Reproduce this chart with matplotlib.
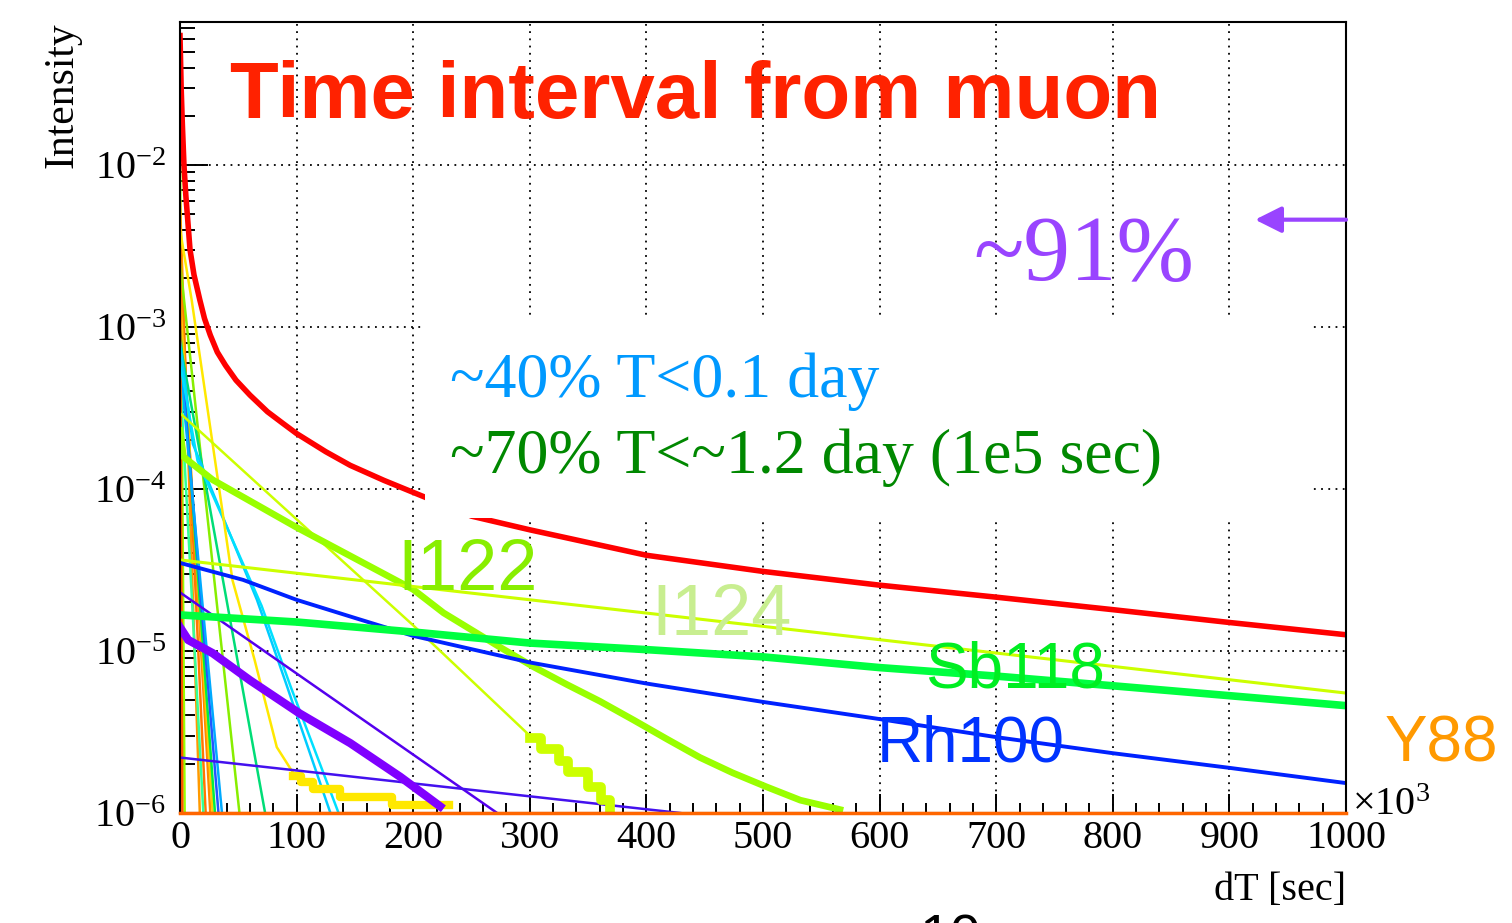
import numpy as np
import matplotlib
matplotlib.use('Agg')
import matplotlib.pyplot as plt
from matplotlib.patches import Rectangle

plt.rcParams['font.family'] = ['Liberation Serif', 'DejaVu Serif']
plt.rcParams['mathtext.fontset'] = 'custom'
plt.rcParams['mathtext.rm'] = 'Liberation Serif'
plt.rcParams['mathtext.it'] = 'Liberation Serif:italic'

W, H = 1512, 923
YMIN, YMAX = 1e-6, 0.0764

# dT in units of 1e3 sec
RED_X = [0, 1, 2, 3.4, 5, 8.6, 12, 17, 21, 26, 32, 39, 48, 60, 75, 88, 100, 125, 146, 175, 199,
         250, 300, 400, 500, 600, 700, 800, 900, 1000]
RED_Y = [0.063, 0.03, 0.018, 0.01, 6.5e-3, 3e-3, 2.1e-3, 1.47e-3, 1.13e-3, 8.9e-4, 7.0e-4, 5.8e-4,
         4.7e-4, 3.8e-4, 3.0e-4, 2.55e-4, 2.2e-4, 1.7e-4, 1.4e-4, 1.13e-4, 9.6e-5,
         6.8e-5, 5.6e-5, 3.9e-5, 3.1e-5, 2.55e-5, 2.15e-5, 1.8e-5, 1.5e-5, 1.26e-5]

SB118_X = [0, 100, 200, 300, 400, 500, 600, 700, 800, 900, 1000]
SB118_Y = [1.67e-5, 1.51e-5, 1.31e-5, 1.12e-5, 1.02e-5, 9.2e-6, 7.9e-6, 7.0e-6, 6.1e-6, 5.3e-6, 4.6e-6]

RH100_X = [0, 54, 100, 150, 200, 300, 400, 500, 600, 700, 800, 900, 1000]
RH100_Y = [3.5e-5, 2.75e-5, 2.07e-5, 1.6e-5, 1.24e-5, 8.5e-6, 6.3e-6, 4.85e-6, 3.8e-6, 2.94e-6,
           2.34e-6, 1.9e-6, 1.53e-6]

I124_X = [0, 500, 1000]
I124_Y = [3.65e-5, 1.42e-5, 5.5e-6]

I122_X = [0, 3, 28, 100, 200, 226, 250, 274, 303, 332, 360, 389, 418, 446, 474, 503, 532, 566]
I122_Y = [2.3e-4, 1.58e-4, 1.14e-4, 5.8e-5, 2.4e-5, 1.72e-5, 1.35e-5, 1.06e-5, 8.0e-6, 6.2e-6, 4.9e-6,
          3.75e-6, 2.85e-6, 2.2e-6, 1.77e-6, 1.45e-6, 1.2e-6, 1.05e-6]

# steep yellow-green fit and its histogram tail
YG_X = [0, 100, 200, 300]
YG_Y = [2.94e-4, 6.5e-5, 1.44e-5, 3.0e-6]
YG_TAIL_X = [300, 310, 325, 333, 350, 361, 369]
YG_TAIL_Y = [2.9e-6, 2.5e-6, 2.1e-6, 1.8e-6, 1.45e-6, 1.2e-6, 1.0e-6]

PURPLE_X = [0, 7, 28, 60, 103, 146, 189, 212, 223]
PURPLE_Y = [1.4e-5, 1.17e-5, 9.7e-6, 6.6e-6, 4.1e-6, 2.7e-6, 1.67e-6, 1.26e-6, 1.1e-6]

INDIGO1_X, INDIGO1_Y = [0, 272], [2.3e-5, 1.0e-6]
INDIGO2_X, INDIGO2_Y = [0, 429], [2.2e-6, 1.0e-6]

YEL_X = [0, 10, 45, 64, 83, 97]
YEL_Y = [4e-3, 1.47e-3, 2.74e-5, 8.8e-6, 2.55e-6, 1.77e-6]
YEL_TAIL_X = [97, 104, 114, 137, 182, 231]
YEL_TAIL_Y = [1.7e-6, 1.55e-6, 1.4e-6, 1.26e-6, 1.12e-6, 1.12e-6]

CYAN1_X, CYAN1_Y = [0, 11, 66, 90, 129], [8e-4, 1.9e-4, 2.07e-5, 6.6e-6, 1.0e-6]
CYAN2_X, CYAN2_Y = [0, 15, 70, 95, 136], [6e-4, 1.5e-4, 1.9e-5, 6e-6, 1.0e-6]

# short-lived isotopes: value at dT=0 and where they reach 1e-6
FAST_START = [1.2e-2, 6e-3, 3e-3, 2e-3, 1.5e-3, 1e-3, 8e-4, 6e-4, 2.5e-3, 8e-4, 5e-4, 3e-3]
FAST_END = [4, 17, 22, 26, 28, 30, 33, 36, 51, 73, 20, 2]
FAST_COLORS = ['#99ff00', '#ff9900', '#ff7700', '#ff8800', '#ffcc00', '#00ee44',
               '#2255ff', '#00aaff', '#88ee00', '#00dd77', '#33ff99', '#ff5500']

# Y88 sits below the plotted range, ROOT draws it on the floor
Y88_X, Y88_Y = [0, 1000], [9e-7, 8e-7]

XTICKS = [0, 100, 200, 300, 400, 500, 600, 700, 800, 900, 1000]


def fig_xy(x, y):
    return x / W, 1 - y / H


fig = plt.figure(figsize=(W / 100, H / 100), dpi=100)
ax = fig.add_axes([180 / W, (H - 813) / H, 1166 / W, 791 / H])
ax.set_yscale('log')
ax.set_xlim(0, 1000)
ax.set_ylim(YMIN, YMAX)

for y0, xe, c in zip(FAST_START, FAST_END, FAST_COLORS):
    ax.plot([0, xe], [y0, YMIN], color=c, lw=1.8)

ax.plot(CYAN1_X, CYAN1_Y, color='#00ccff', lw=1.8)
ax.plot(CYAN2_X, CYAN2_Y, color='#00e0ff', lw=1.8)
ax.plot(YEL_X, YEL_Y, color='#ffe800', lw=1.8)
ax.plot(YEL_TAIL_X, YEL_TAIL_Y, color='#ffe800', lw=6, drawstyle='steps-post')
ax.plot(INDIGO1_X, INDIGO1_Y, color='#5500ee', lw=1.8)
ax.plot(INDIGO2_X, INDIGO2_Y, color='#4411ee', lw=1.8)
ax.plot(PURPLE_X, PURPLE_Y, color='#8000ff', lw=6)
ax.plot(YG_X, YG_Y, color='#ccff00', lw=1.8)
ax.plot(YG_TAIL_X, YG_TAIL_Y, color='#ccff00', lw=7, drawstyle='steps-post')
ax.plot(I122_X, I122_Y, color='#99ff00', lw=4.8)
ax.plot(I124_X, I124_Y, color='#ccff00', lw=2.2)
ax.plot(RH100_X, RH100_Y, color='#0022ff', lw=2.8)
ax.plot(SB118_X, SB118_Y, color='#00ff40', lw=5.5)
ax.plot(RED_X, RED_Y, color='#ff0000', lw=4)
ax.plot(Y88_X, np.maximum(Y88_Y, YMIN), color='#ff6600', lw=2.5, clip_on=False, zorder=4)

# blank area behind the annotation text
ax.add_patch(Rectangle((0.210, 0.373), 0.759, 0.255, transform=ax.transAxes,
                       facecolor='white', edgecolor='none', zorder=3))

ax.set_axisbelow(True)
ax.grid(True, which='major', color='black', linestyle=(0, (1, 3)), lw=1.3)
ax.set_xticks(XTICKS)
ax.set_xticklabels([str(t) for t in XTICKS])
ax.xaxis.set_minor_locator(matplotlib.ticker.MultipleLocator(20))
ax.tick_params(axis='both', which='both', direction='in', top=False, right=False,
               labelsize=29, width=1.4)
ax.tick_params(axis='x', which='major', length=14, pad=5)
ax.tick_params(axis='x', which='minor', length=7)
ax.tick_params(axis='y', which='major', length=20, pad=10)
ax.tick_params(axis='y', which='minor', length=11)
for s in ax.spines.values():
    s.set_linewidth(1.5)

ax.set_ylabel('Intensity', fontsize=30, loc='top', labelpad=9)
ax.set_xlabel('dT [sec]', fontsize=29, loc='right', labelpad=11)

fig.text(*fig_xy(1352, 815), r'$\times10^{3}$', fontsize=29, ha='left', va='baseline')

fig.text(*fig_xy(230, 118), 'Time interval from muon', color='#ff2200', fontsize=57.5,
         fontweight='bold', family='Liberation Sans', va='baseline')
fig.text(*fig_xy(973, 280), '~91%', color='#9944ff', fontsize=67, va='baseline')
fig.text(*fig_xy(450, 397), '~40% T<0.1 day', color='#0099ff', fontsize=46, va='baseline', zorder=5)
fig.text(*fig_xy(450, 473), '~70% T<~1.2 day (1e5 sec)', color='#008800', fontsize=46,
         va='baseline', zorder=5)

ax.annotate('', xy=(922, 4.6e-3), xytext=(1000, 4.6e-3),
            arrowprops=dict(arrowstyle='-|>', color='#9944ff', lw=3, mutation_scale=40,
                            shrinkA=0, shrinkB=0), zorder=5)

label_kw = dict(family='Liberation Sans', va='baseline')
fig.text(*fig_xy(397, 590), 'I122', color='#88ee00', fontsize=52, **label_kw)
fig.text(*fig_xy(651, 635), 'I124', color='#c8ee90', fontsize=52, **label_kw)
fig.text(*fig_xy(925, 688), 'Sb118', color='#00ee22', fontsize=46, **label_kw)
fig.text(*fig_xy(877, 762), 'Rh100', color='#0033ff', fontsize=46, **label_kw)
fig.text(*fig_xy(1385, 762), 'Y88', color='#ff9900', fontsize=46, **label_kw)

fig.text(*fig_xy(920, 913), '10', family='Liberation Sans', fontsize=40, va='top')

fig.savefig('out.png', dpi=100)
